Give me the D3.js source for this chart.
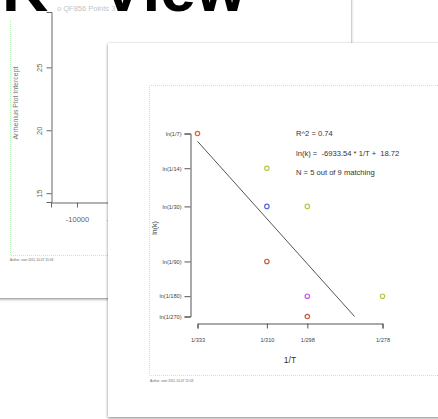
<!DOCTYPE html>
<html>
<head>
<meta charset="utf-8">
<script src="https://cdn.jsdelivr.net/npm/d3@7"></script>
<style>
  html, body { margin: 0; padding: 0; background: #fff; }
  svg { display: block; font-family: "Liberation Sans", Arial, sans-serif; }
</style>
</head>
<body>
<svg id="chart" width="438" height="419"></svg>
<script>
// Arrhenius fit: reaction temperature (1/T) against rate constant ln(k)
const tempTicks = [333, 310, 298, 278];          // T values shown on the x axis as 1/T
const rateTicks = [7, 14, 30, 90, 180, 270];     // k = 1/n values shown on the y axis as ln(1/n)
const pointTemp = [333, 310, 310, 310, 298, 298, 298, 278];
const pointRate = [7, 14, 30, 90, 30, 180, 270, 180];
const pointColor = ["#e0622c", "#b8c845", "#5566ea", "#c0603e", "#b8c845", "#c25ae4", "#c0603e", "#b8c845"];
const fitSlope = -6933.54;
const fitIntercept = 18.72;
const fitR2 = 0.74;
const matched = 5, total = 9;

// Intercept panel (card behind)
const backYTicks = [15, 20, 25];
const backXTicks = [-10000, -5000];

const svg = d3.select("#chart");
const defs = svg.append("defs");
const f = defs.append("filter").attr("id", "shadow")
  .attr("x", "-10%").attr("y", "-10%").attr("width", "120%").attr("height", "120%");
f.append("feDropShadow").attr("dx", 0).attr("dy", 1).attr("stdDeviation", 1.8)
  .attr("flood-color", "#000").attr("flood-opacity", 0.5);

// ---- card behind ----
const back = svg.append("g");
back.append("rect").attr("x", -30).attr("y", -30).attr("width", 381).attr("height", 328)
  .attr("fill", "#fff").attr("filter", "url(#shadow)");
back.append("path").attr("d", "M10.5,20V255.5H351")
  .attr("fill", "none").attr("stroke", "#b9f0b9").attr("stroke-width", 1).attr("stroke-dasharray", "1,1");

const by = d3.scaleLinear().domain([14.3, 29.4]).range([202, 12]);
const bx = d3.scaleLinear().domain([-13333, 25128]).range([51, 351]);

const byAxis = back.append("g").attr("transform", "translate(51.5,0)")
  .call(d3.axisLeft(by).tickValues(backYTicks).tickSizeOuter(0).tickSize(5));
byAxis.selectAll("text").attr("transform", "rotate(-90)")
  .attr("x", 0).attr("y", -10).attr("dy", "0").attr("text-anchor", "middle");
const bxAxis = back.append("g").attr("transform", "translate(0,202.5)")
  .call(d3.axisBottom(bx).tickValues(backXTicks).tickFormat(d => String(d)).tickSizeOuter(0).tickSize(5).tickPadding(9));
[byAxis, bxAxis].forEach(a => {
  a.select(".domain").attr("stroke", "#666");
  a.selectAll("line").attr("stroke", "#666");
  a.selectAll("text").attr("fill", "#666").attr("font-size", 7.5).attr("font-family", "Liberation Sans, Arial, sans-serif");
});
back.append("text").attr("transform", "translate(18,103) rotate(-90)")
  .attr("text-anchor", "middle").attr("font-size", 7).attr("fill", "#777").text("Arrhenius Plot Intercept");
back.append("text").attr("x", 57).attr("y", 11).attr("font-size", 7.5).attr("fill", "#c4c4c4").text("o QF856 Points 3");
back.append("text").attr("x", 10).attr("y", 261).attr("font-size", 3.2).attr("fill", "#666")
  .text("Author: user   2011-10-07 15:03");

// ---- front card ----
const front = svg.append("g");
front.append("rect").attr("x", 108).attr("y", 43).attr("width", 360).attr("height", 374)
  .attr("fill", "#fff").attr("filter", "url(#shadow)");
front.append("path").attr("d", "M460,85.5H149.5V375.5H460")
  .attr("fill", "none").attr("stroke", "#b9f0b9").attr("stroke-width", 1).attr("stroke-dasharray", "1,1");
front.append("text").attr("x", 150).attr("y", 382).attr("font-size", 3.2).attr("fill", "#666")
  .text("Author: user   2011-10-07 15:03");

const x = d3.scaleLinear().domain([1 / 333, 1 / 278]).range([197.5, 382.5]);
const y = d3.scaleLinear().domain([Math.log(1 / 270), Math.log(1 / 7)]).range([316.5, 133.5]);

const yAx = front.append("g").attr("transform", "translate(190.5,0)")
  .call(d3.axisLeft(y).tickValues(rateTicks.map(n => Math.log(1 / n)))
    .tickFormat((d, i) => `ln(1/${rateTicks[i]})`).tickSizeOuter(0).tickSize(6).tickPadding(3));
const xAx = front.append("g").attr("transform", "translate(0,323.5)")
  .call(d3.axisBottom(x).tickValues(tempTicks.map(t => 1 / t))
    .tickFormat((d, i) => `1/${tempTicks[i]}`).tickSizeOuter(0).tickSize(5).tickPadding(10));
[yAx, xAx].forEach(a => {
  a.select(".domain").attr("stroke", "#555");
  a.selectAll("line").attr("stroke", "#555");
  a.selectAll("text").attr("fill", "#444").attr("font-size", 5.6).attr("font-family", "Liberation Sans, Arial, sans-serif");
});

front.append("text").attr("x", 290).attr("y", 363).attr("text-anchor", "middle")
  .attr("font-size", 8.5).attr("fill", "#333").text("1/T");
front.append("text").attr("transform", "translate(157,228) rotate(-90)").attr("text-anchor", "middle")
  .attr("font-size", 7).attr("fill", "#333").text("ln(k)");

// fitted line, from the hottest temperature down to the lowest rate shown
const lnMin = Math.log(1 / 270);
const xStart = 1 / 333;
const xEnd = (lnMin - fitIntercept) / fitSlope;
front.append("line")
  .attr("x1", x(xStart)).attr("y1", y(fitSlope * xStart + fitIntercept))
  .attr("x2", x(xEnd)).attr("y2", y(fitSlope * xEnd + fitIntercept))
  .attr("stroke", "#555").attr("stroke-width", 1);

front.selectAll("circle.pt").data(pointTemp.map((t, i) => ({ t, k: pointRate[i], c: pointColor[i] })))
  .join("circle").attr("class", "pt")
  .attr("cx", d => x(1 / d.t)).attr("cy", d => y(Math.log(1 / d.k)))
  .attr("r", 2.2).attr("fill", "none").attr("stroke", d => d.c).attr("stroke-width", 1.2);

const notes = [
  `R^2 = ${fitR2.toFixed(2)}`,
  `ln(k) =  ${fitSlope.toFixed(2)} * 1/T +  ${fitIntercept.toFixed(2)}`,
  `N = ${matched} out of ${total} matching`
];
front.selectAll("text.note").data(notes).join("text").attr("class", "note")
  .attr("x", 296).attr("y", (d, i) => 136 + i * 19.5)
  .attr("font-size", 7.6).attr("fill", "#333").attr("xml:space", "preserve")
  .style("white-space", "pre").text(d => d);

// slide title, mostly above the visible area
svg.append("text").attr("y", 11).attr("font-size", 64).attr("font-weight", "bold").attr("fill", "#000")
  .selectAll("tspan").data([{ s: "K", x: 2 }, { s: "View", x: 101 }]).join("tspan")
  .attr("x", d => d.x).text(d => d.s);
</script>
</body>
</html>
